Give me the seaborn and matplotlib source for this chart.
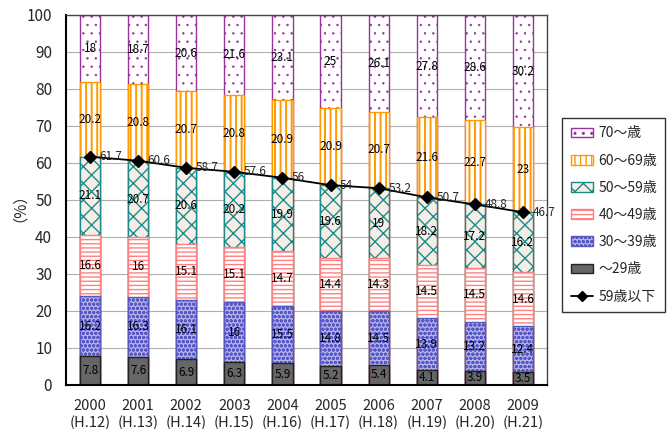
import numpy as np
import pandas as pd
import matplotlib
matplotlib.use("Agg")
import matplotlib.pyplot as plt
import seaborn as sns
from matplotlib.patches import Patch
from matplotlib.lines import Line2D

years = ["2000", "2001", "2002", "2003", "2004", "2005", "2006", "2007", "2008", "2009"]
eras = ["H.12", "H.13", "H.14", "H.15", "H.16", "H.17", "H.18", "H.19", "H.20", "H.21"]

age_under29 = [7.8, 7.6, 6.9, 6.3, 5.9, 5.2, 5.4, 4.1, 3.9, 3.5]
age_30_39 = [16.2, 16.3, 16.1, 16.0, 15.5, 14.8, 14.5, 13.9, 13.2, 12.4]
age_40_49 = [16.6, 16.0, 15.1, 15.1, 14.7, 14.4, 14.3, 14.5, 14.5, 14.6]
age_50_59 = [21.1, 20.7, 20.6, 20.2, 19.9, 19.6, 19.0, 18.2, 17.2, 16.2]
age_60_69 = [20.2, 20.8, 20.7, 20.8, 20.9, 20.9, 20.7, 21.6, 22.7, 23.0]
age_70plus = [18.0, 18.7, 20.6, 21.6, 23.1, 25.0, 26.1, 27.8, 28.6, 30.2]
under59 = [61.7, 60.6, 58.7, 57.6, 56.0, 54.0, 53.2, 50.7, 48.8, 46.7]

series_labels = ["～29歳", "30～39歳", "40～49歳", "50～59歳", "60～69歳", "70～歳"]
line_label = "59歳以下"

sns.set_style("white")
plt.rcParams["font.family"] = ["Noto Sans CJK JP", "DejaVu Sans"]

xlabels = [f"{y}\n({e})" for y, e in zip(years, eras)]
layers = [age_under29, age_30_39, age_40_49, age_50_59, age_60_69, age_70plus]

# (face, edge/hatch colour, hatch, hatch line width)
styles = [
    ("#666666", "#222222", None, 1.0),
    ("#b4b4ec", "#5858c4", "oooo", 1.0),
    ("#ffffff", "#ff8080", "----", 1.0),
    ("#f6eee6", "#1a8a8a", "xx", 1.0),
    ("#ffffff", "#ff9900", "|||", 1.4),
    ("#ffffff", "#993399", "..", 0.5),
]

fig = plt.figure(figsize=(6.67, 4.29), dpi=100)
ax = fig.add_axes([0.099, 0.1026, 0.721, 0.8625])

cum = np.cumsum(np.array(layers), axis=0)
df = pd.DataFrame({"x": xlabels})

# Stacked bars: draw cumulative totals from the top layer downwards
for i in range(len(layers) - 1, -1, -1):
    face, edge, hatch, hlw = styles[i]
    plt.rcParams["hatch.linewidth"] = hlw
    df["top"] = cum[i]
    sns.barplot(data=df, x="x", y="top", order=xlabels, color=face, saturation=1,
                width=0.42, edgecolor=edge, linewidth=1.0, hatch=hatch, ax=ax, zorder=2)

# Segment value labels
for i, vals in enumerate(layers):
    bottoms = cum[i] - np.array(vals)
    for j, v in enumerate(vals):
        ax.text(j, bottoms[j] + v / 2, f"{v:g}", ha="center", va="center", fontsize=8.5,
                color="black", zorder=5)

# 59歳以下 line
sns.pointplot(x=xlabels, y=under59, order=xlabels, color="black", markers="D",
              markersize=6, linewidth=1.3, ax=ax, zorder=6)
for j, v in enumerate(under59):
    ax.text(j + 0.2, v, f"{v:g}", ha="left", va="center", fontsize=8.5, zorder=7)

ax.set_ylim(0, 100)
ax.set_xlim(-0.5, 9.5)
ax.set_yticks(np.arange(0, 101, 10))
ax.yaxis.grid(True, color="#b0b0b0", linewidth=0.8, zorder=0)
ax.set_axisbelow(True)
ax.set_xlabel("")
ax.set_ylabel("（%）", fontsize=11, labelpad=5)
ax.tick_params(axis="y", direction="in", length=4, labelsize=11, pad=10)
ax.tick_params(axis="x", which="major", length=0, labelsize=10.5, pad=10)
ax.set_xticks(np.arange(-0.5, 10, 1), minor=True)
ax.tick_params(axis="x", which="minor", direction="in", length=4)
for s in ax.spines.values():
    s.set_color("black")
    s.set_linewidth(1.0)
ax.spines["left"].set_linewidth(1.5)
ax.spines["bottom"].set_linewidth(1.5)
ax.spines["top"].set_color("#444444")
ax.spines["right"].set_color("#444444")

handles = []
for i in range(len(layers) - 1, -1, -1):
    face, edge, hatch, hlw = styles[i]
    plt.rcParams["hatch.linewidth"] = hlw
    handles.append(Patch(facecolor=face, edgecolor=edge, hatch=hatch, linewidth=1.0,
                         label=series_labels[i]))
handles.append(Line2D([0], [0], color="black", marker="D", markersize=5, linewidth=1.3,
                      label=line_label))
leg = fig.legend(handles=handles, loc="upper left", bbox_to_anchor=(0.843, 0.725),
                 borderaxespad=0, fontsize=10, frameon=True, fancybox=False,
                 edgecolor="black", labelspacing=0.95, handlelength=1.6,
                 handleheight=0.7, handletextpad=0.4, borderpad=0.6)
leg.get_frame().set_linewidth(1.0)

fig.savefig("out.png", dpi=100)
